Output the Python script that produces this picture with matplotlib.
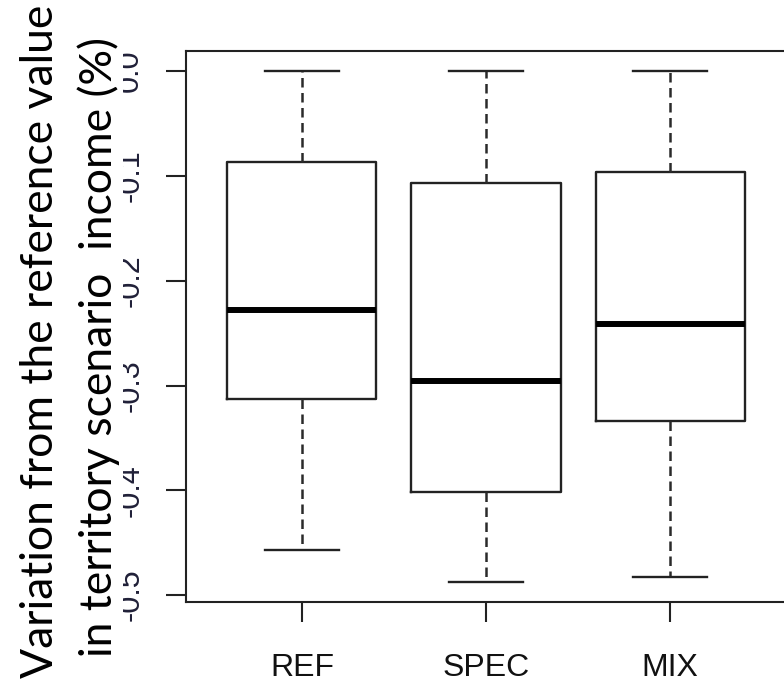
import matplotlib
matplotlib.use("Agg")
import matplotlib.pyplot as plt
from matplotlib.patches import Rectangle

# ---- data ----
categories = ["REF", "SPEC", "MIX"]
whisker_high = [0.0, 0.0, 0.0]
q3_values = [-0.087, -0.107, -0.096]
median_values = [-0.228, -0.296, -0.241]
q1_values = [-0.313, -0.402, -0.334]
whisker_low = [-0.457, -0.487, -0.483]
ytick_values = [0.0, -0.1, -0.2, -0.3, -0.4, -0.5]
ytick_labels = ["0.0", "-0.1", "-0.2", "-0.3", "-0.4", "-0.5"]
ylabel_line1 = "Variation from the reference value"
ylabel_line2 = "in territory scenario  income (%)"

W, H = 784, 684
fig = plt.figure(figsize=(W / 100, H / 100), dpi=100)
ax = fig.add_axes([186 / W, 82 / H, 600 / W, (602 - 50.7) / H])

stats = []
for name, wh, q3, med, q1, wl in zip(categories, whisker_high, q3_values,
                                     median_values, q1_values, whisker_low):
    stats.append(dict(label=name, whishi=wh, q3=q3, med=med, q1=q1, whislo=wl, fliers=[]))

line_col = "#222222"
positions = [1, 2, 3]
ax.bxp(stats, positions=positions, widths=0.81, capwidths=0.405,
       showfliers=False, patch_artist=False,
       boxprops=dict(color=line_col, linewidth=1.7),
       whiskerprops=dict(color="#2a2a2a", linewidth=1.8, linestyle=(0, (3.8, 2.2))),
       capprops=dict(color=line_col, linewidth=1.7),
       medianprops=dict(color="black", linewidth=4.3, solid_capstyle="butt"))

ax.set_xlim(0.37, 3.63)
ax.set_ylim(-0.5065, 0.0195)

for s in ax.spines.values():
    s.set_linewidth(1.5)
    s.set_color(line_col)

ax.set_xticks(positions)
ax.set_xticklabels(categories, fontfamily="Liberation Sans", fontsize=23, color="#111111")
ax.set_yticks(ytick_values)
ax.set_yticklabels(ytick_labels, fontfamily="Liberation Sans", fontsize=22,
                   color="#202038", rotation=90, va="center", ha="right")
ax.tick_params(axis="x", length=14.4, width=1.5, pad=22, color=line_col)
ax.tick_params(axis="y", length=14.4, width=1.5, pad=15, color=line_col)

# white text box of the y label covering part of the tick labels
fig.patches.append(Rectangle((0, 0), 123 / W, 1, transform=fig.transFigure,
                             facecolor="white", edgecolor="none", zorder=1))

# y label as two rotated lines, fitted to the reference length
t1 = fig.text(53 / W, 1 - 341 / H, ylabel_line1, rotation=90, rotation_mode="anchor",
              ha="center", va="baseline", fontfamily="Lato", fontsize=30, color="black", zorder=3)
fig.canvas.draw()
r = fig.canvas.get_renderer()
ext = t1.get_window_extent(r)
fs = 30 * 673 / ext.height
t1.set_fontsize(fs)
fig.text(112 / W, 1 - 347 / H, ylabel_line2, rotation=90, rotation_mode="anchor",
         ha="center", va="baseline", fontfamily="Lato", fontsize=fs, color="black", zorder=3)

fig.savefig("out.png", dpi=100, facecolor="white")
